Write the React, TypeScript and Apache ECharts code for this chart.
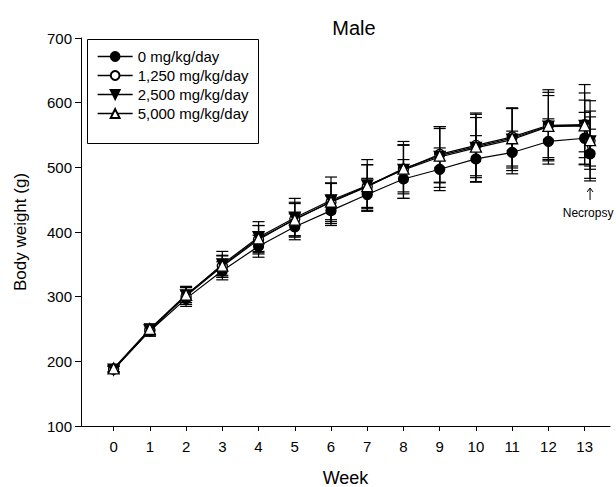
import React, { useEffect, useRef } from "react";
import * as echarts from "echarts";

const FONT = "'Liberation Sans', Arial, sans-serif";

// x positions: weeks 0..13, plus terminal (necropsy) weight just right of week 13
const weeks = [0, 1, 2, 3, 4, 5, 6, 7, 8, 9, 10, 11, 12, 13, 13.15];
const xTickValues = [0, 1, 2, 3, 4, 5, 6, 7, 8, 9, 10, 11, 12, 13];
const groupNames = ["0 mg/kg/day", "1,250 mg/kg/day", "2,500 mg/kg/day", "5,000 mg/kg/day"];

const mean0 = [188, 247, 297, 340, 378, 408, 433, 458, 482, 497, 513, 523, 540, 545, 521];
const mean1250 = [188, 249, 301, 347, 388, 420, 446, 470, 497, 520, 534, 547, 565, 566, 541];
const mean2500 = [187, 248, 302, 350, 392, 422, 449, 472, 496, 516, 530, 543, 563, 564, 540];
const mean5000 = [189, 250, 303, 348, 390, 419, 447, 471, 498, 518, 532, 545, 564, 565, 542];

const sd0 = [4, 8, 12, 14, 17, 20, 23, 25, 30, 33, 36, 33, 35, 40, 38];
const sd1250 = [5, 8, 13, 17, 22, 26, 30, 34, 38, 43, 50, 45, 55, 62, 62];
const sd2500 = [5, 9, 14, 20, 24, 30, 36, 40, 44, 47, 52, 48, 48, 40, 38];
const sd5000 = [5, 8, 12, 15, 20, 25, 28, 33, 36, 42, 45, 46, 52, 50, 45];

const necropsyPoint = [13.15, 468];

const means = [mean0, mean1250, mean2500, mean5000];
const sds = [sd0, sd1250, sd2500, sd5000];
const symbols = ["circle", "circle", "triangle", "triangle"];
const symbolRotates = [0, 0, 180, 0];
const fills = ["#000", "#fff", "#000", "#fff"];

export default function App() {
  const ref = useRef<HTMLDivElement>(null);
  useEffect(() => {
    document.body.style.margin = "0";
    const chart = echarts.init(ref.current!, null, { renderer: "svg" });

    const errorSeries = means.map((m, gi) => ({
      type: "custom",
      z: 1,
      silent: true,
      encode: { x: 0, y: 1 },
      data: weeks.map((w, i) => [w, m[i], sds[gi][i]]),
      renderItem: (params: any, api: any) => {
        const x = api.value(0);
        const mv = api.value(1);
        const s = api.value(2);
        const top = api.coord([x, mv + s]);
        const bot = api.coord([x, mv - s]);
        const hw = 6;
        const st = { stroke: "#000", lineWidth: 1.2 };
        return {
          type: "group",
          children: [
            { type: "line", shape: { x1: top[0], y1: top[1], x2: bot[0], y2: bot[1] }, style: st },
            { type: "line", shape: { x1: top[0] - hw, y1: top[1], x2: top[0] + hw, y2: top[1] }, style: st },
            { type: "line", shape: { x1: bot[0] - hw, y1: bot[1], x2: bot[0] + hw, y2: bot[1] }, style: st },
          ],
        };
      },
    }));

    const lineSeries = means.map((m, gi) => ({
      type: "line",
      name: groupNames[gi],
      z: 3 + gi,
      data: weeks.map((w, i) => [w, m[i]]),
      symbol: symbols[gi],
      symbolRotate: symbolRotates[gi],
      symbolSize: gi >= 2 ? 11 : 10,
      showSymbol: true,
      lineStyle: { color: "#000", width: 1.2 },
      itemStyle: { color: fills[gi], borderColor: "#000", borderWidth: 1.3 },
    }));

    const annotation = {
      type: "custom",
      z: 10,
      silent: true,
      data: [necropsyPoint],
      encode: { x: 0, y: 1 },
      renderItem: (params: any, api: any) => {
        const p = api.coord([api.value(0), api.value(1)]);
        const st = { stroke: "#000", lineWidth: 1, fill: "none" };
        return {
          type: "group",
          children: [
            { type: "line", shape: { x1: p[0], y1: p[1], x2: p[0], y2: p[1] + 12 }, style: st },
            { type: "polyline", shape: { points: [[p[0] - 3, p[1] + 4], [p[0], p[1]], [p[0] + 3, p[1] + 4]] }, style: st },
            {
              type: "text",
              x: p[0] - 2,
              y: p[1] + 25,
              style: { text: "Necropsy", fontSize: 12, fontFamily: FONT, fill: "#000", align: "center", verticalAlign: "middle" },
            },
          ],
        };
      },
    };

    const option: any = {
      animation: false,
      backgroundColor: "#fff",
      textStyle: { fontFamily: FONT },
      title: {
        text: "Male",
        left: 349,
        top: 13,
        textAlign: "center",
        textStyle: { fontSize: 20, fontWeight: "normal", color: "#000", fontFamily: FONT },
      },
      graphic: [
        {
          type: "rect",
          left: 87,
          top: 39,
          shape: { width: 171, height: 104 },
          style: { fill: "#fff", stroke: "#000", lineWidth: 1 },
          z: 5,
        },
      ],
      legend: {
        data: groupNames,
        orient: "vertical",
        left: 87,
        top: 39,
        padding: [10, 6, 10, 10],
        itemWidth: 35,
        itemHeight: 11,
        itemGap: 4,
        borderWidth: 0,
        selectedMode: false,
        z: 10,
        lineStyle: { width: 1.3, color: "#000" },
        textStyle: { fontSize: 15, color: "#000", fontFamily: FONT },
      },
      grid: { left: 81, right: 6, top: 38, bottom: 61, containLabel: false, outerBoundsMode: "none" },
      xAxis: {
        type: "value",
        min: -0.9,
        max: 13.7,
        name: "Week",
        nameLocation: "middle",
        nameGap: 43,
        nameTextStyle: { fontSize: 18, color: "#000", fontFamily: FONT },
        axisLine: { show: true, onZero: false, lineStyle: { color: "#000", width: 1 } },
        axisTick: { show: true, length: 5, customValues: xTickValues, lineStyle: { color: "#000" } },
        axisLabel: { customValues: xTickValues, fontSize: 15, color: "#000", margin: 13, fontFamily: FONT },
        splitLine: { show: false },
      },
      yAxis: {
        type: "value",
        min: 100,
        max: 700,
        interval: 100,
        name: "Body weight (g)",
        nameLocation: "middle",
        nameGap: 52,
        nameTextStyle: { fontSize: 17, color: "#000", fontFamily: FONT },
        axisLine: { show: true, onZero: false, lineStyle: { color: "#000", width: 1 } },
        axisTick: { show: true, length: 6, lineStyle: { color: "#000" } },
        axisLabel: { fontSize: 15, color: "#000", margin: 9, fontFamily: FONT },
        splitLine: { show: false },
      },
      series: [...errorSeries, ...lineSeries, annotation],
    };
    chart.setOption(option);
    return () => chart.dispose();
  }, []);
  return <div ref={ref} style={{ width: 616, height: 487 }} />;
}
